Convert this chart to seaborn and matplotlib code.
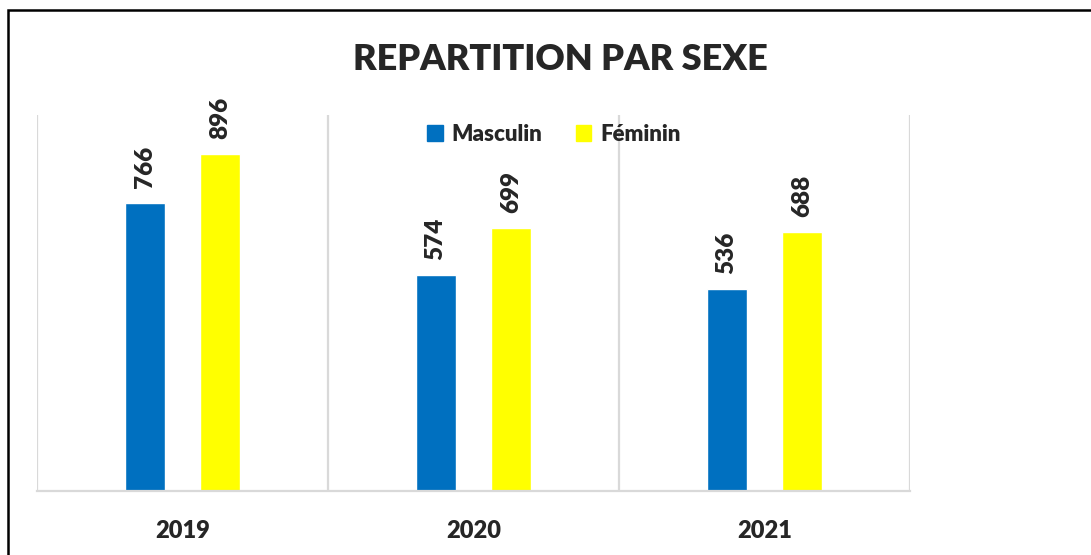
import numpy as np
import pandas as pd
import matplotlib
matplotlib.use('Agg')
import matplotlib.pyplot as plt
import matplotlib.patches as mpatches
import seaborn as sns

annees = ['2019', '2020', '2021']
masculin = [766, 574, 536]
feminin = [896, 699, 688]

df = pd.DataFrame({
    'Annee': annees * 2,
    'Sexe': ['Masculin'] * 3 + ['Féminin'] * 3,
    'Effectif': masculin + feminin,
})

sns.set_style('white')
plt.rcParams['font.family'] = ['Lato', 'DejaVu Sans']
poids = 'heavy'

fig = plt.figure(figsize=(10.91, 5.55), dpi=100)
ax = fig.add_axes([0.0339, 0.1153, 0.8002, 0.6775])

couleurs = {'Masculin': '#0070C0', 'Féminin': '#FFFF00'}
sns.barplot(data=df, x='Annee', y='Effectif', hue='Sexe', palette=couleurs,
            width=0.52, gap=0.47, saturation=1, ax=ax, legend=False)

for c in ax.containers:
    ax.bar_label(c, padding=11, rotation=90, fontsize=17.5, fontweight=poids)

ax.set_ylim(0, 1000)
ax.set_xlim(-0.5, 2.5)
for xv in [-0.5, 0.5, 1.5, 2.5]:
    ax.axvline(xv, color='#d9d9d9', lw=1.6, zorder=0)
for s in ['top', 'right', 'left']:
    ax.spines[s].set_visible(False)
ax.spines['bottom'].set_color('#d9d9d9')
ax.spines['bottom'].set_linewidth(1.6)
ax.set_yticks([])
ax.set_xlabel('')
ax.set_ylabel('')
ax.tick_params(axis='x', length=0, pad=21, labelsize=17)
for t in ax.get_xticklabels():
    t.set_fontweight(poids)

poignees = [mpatches.Patch(color=couleurs[k], label=k) for k in ['Masculin', 'Féminin']]
leg = ax.legend(handles=poignees, loc='upper center', bbox_to_anchor=(0.592, 1.03),
                ncol=2, frameon=False, prop={'size': 16, 'weight': poids},
                handlelength=0.7, handleheight=0.7, handletextpad=0.4, columnspacing=1.5)

fig.text(0.514, 0.892, 'REPARTITION PAR SEXE', ha='center', va='center',
         fontsize=26, fontweight=poids)

cadre = mpatches.Rectangle((8 / 1091, -0.1), 1.2, 1.1 - 10 / 555, transform=fig.transFigure,
                           fill=False, edgecolor='black', lw=1.8, clip_on=False)
fig.patches.append(cadre)

fig.savefig('out.png', dpi=100, facecolor='white')
